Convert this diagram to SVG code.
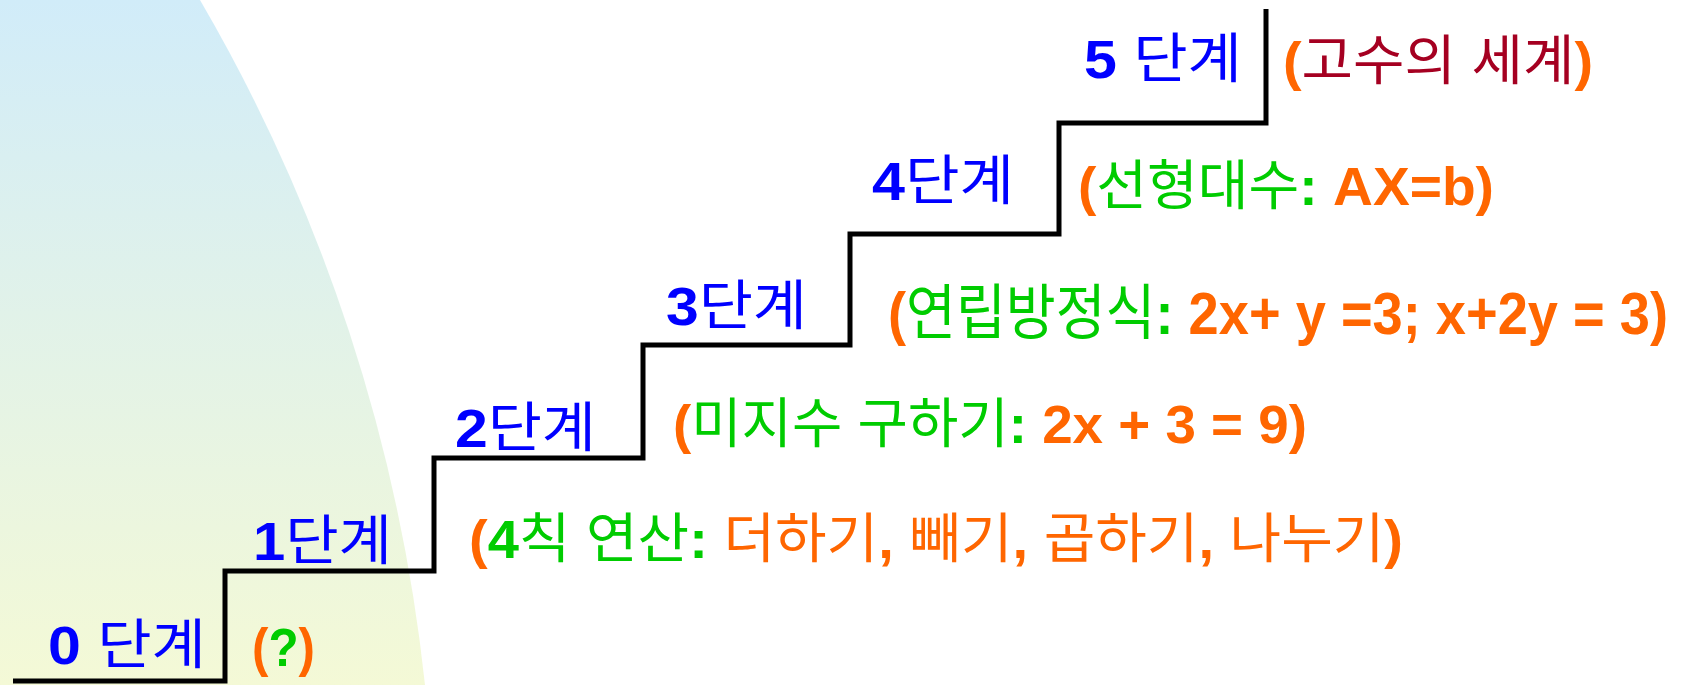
<svg xmlns="http://www.w3.org/2000/svg" width="1682" height="685" viewBox="0 0 1682 685">
<defs>
<linearGradient id="bg" x1="0" y1="0" x2="0" y2="1">
<stop offset="0" stop-color="#d1ecf9"/>
<stop offset="1" stop-color="#f4f9d6"/>
</linearGradient>
<style>
text{font-family:"Liberation Sans","Noto Sans CJK KR",sans-serif;font-size:54px}
.b{font-weight:bold}
.blue{fill:#0000ff}
.grn{fill:#00cc00}
.org{fill:#ff6600}
.red{fill:#a50021}
.stair{fill:none;stroke:#000;stroke-width:5;stroke-linejoin:miter}
</style>
</defs>
<rect width="1682" height="685" fill="#fff"/>
<path d="M0,0 L200,0 A1722,1722 0 0,1 425,685 L0,685 Z" fill="url(#bg)"/>
<g id="connectors">
<path class="stair" d="M13,681 H225 V571 H434 V458 H643 V345 H850 V234 H1059 V123 H1266 V9"/>
</g>
<g id="step0">
<text x="48" y="664" class="blue" textLength="158" lengthAdjust="spacingAndGlyphs"><tspan class="b">0</tspan> 단계</text>
<text x="252" y="666" class="b org" textLength="63" lengthAdjust="spacingAndGlyphs">(<tspan class="grn">?</tspan>)</text>
</g>
<g id="step1">
<text x="253" y="560" class="blue" textLength="139" lengthAdjust="spacingAndGlyphs"><tspan class="b">1</tspan>단계</text>
<text x="469" y="558" textLength="934" lengthAdjust="spacingAndGlyphs"><tspan class="b org">(</tspan><tspan class="b grn">4</tspan><tspan class="grn">칙 연산</tspan><tspan class="b grn">:</tspan><tspan class="org"> 더하기</tspan><tspan class="b org">,</tspan><tspan class="org"> 빼기</tspan><tspan class="b org">,</tspan><tspan class="org"> 곱하기</tspan><tspan class="b org">,</tspan><tspan class="org"> 나누기</tspan><tspan class="b org">)</tspan></text>
</g>
<g id="step2">
<text x="455" y="447" class="blue" textLength="141" lengthAdjust="spacingAndGlyphs"><tspan class="b">2</tspan>단계</text>
<text x="673" y="443" textLength="634" lengthAdjust="spacingAndGlyphs"><tspan class="b org">(</tspan><tspan class="grn">미지수 구하기</tspan><tspan class="b grn">:</tspan><tspan class="b org"> 2x + 3 = 9)</tspan></text>
</g>
<g id="step3">
<text x="666" y="325" class="blue" textLength="141" lengthAdjust="spacingAndGlyphs"><tspan class="b">3</tspan>단계</text>
<text x="888" y="334" style="font-size:60px" textLength="780" lengthAdjust="spacingAndGlyphs"><tspan class="b org">(</tspan><tspan class="grn">연립방정식</tspan><tspan class="b grn">:</tspan><tspan class="b org"> 2x+ y =3; x+2y = 3)</tspan></text>
</g>
<g id="step4">
<text x="872" y="200" class="blue" textLength="142" lengthAdjust="spacingAndGlyphs"><tspan class="b">4</tspan>단계</text>
<text x="1078" y="205" textLength="416" lengthAdjust="spacingAndGlyphs"><tspan class="b org">(</tspan><tspan class="grn">선형대수</tspan><tspan class="b grn">:</tspan><tspan class="b org"> AX=b)</tspan></text>
</g>
<g id="step5">
<text x="1084" y="78" class="blue" textLength="158" lengthAdjust="spacingAndGlyphs"><tspan class="b">5</tspan> 단계</text>
<text x="1283" y="80" textLength="310" lengthAdjust="spacingAndGlyphs"><tspan class="b org">(</tspan><tspan class="red">고수의 세계</tspan><tspan class="b org">)</tspan></text>
</g>
</svg>
